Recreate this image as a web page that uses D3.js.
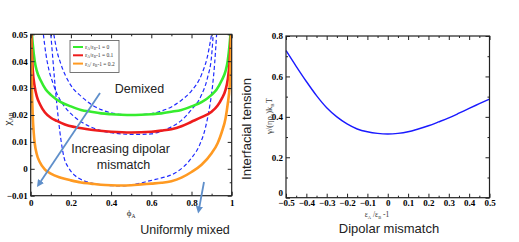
<!DOCTYPE html>
<html><head><meta charset="utf-8">
<script src="https://cdn.jsdelivr.net/npm/d3@7"></script>
<style>
body{margin:0;background:#fff;}
svg{display:block;}
.tk text{font-family:"Liberation Serif","DejaVu Serif",serif;font-weight:bold;font-size:9px;}
</style></head><body>
<svg id="c" width="519" height="242"></svg>
<script>
// ---------- left panel data (phi_A, chi_AB) ----------
const greenPhi = [0.006,0.01,0.02,0.03,0.05,0.075,0.1,0.15,0.2,0.25,0.3,0.35,0.4,0.45,0.5,0.55,0.6,0.65,0.7,0.75,0.8,0.85,0.9,0.925,0.95,0.97,0.98,0.99,0.994];
const greenChi = [0.05,0.0465,0.040,0.0365,0.0328,0.0295,0.0275,0.0248,0.0232,0.0219,0.0212,0.0206,0.0203,0.0201,0.020,0.0201,0.0203,0.0206,0.0212,0.0219,0.0232,0.0248,0.0275,0.0295,0.0328,0.0365,0.040,0.0465,0.05];
const redPhi = [0.003,0.006,0.01,0.02,0.03,0.046,0.07,0.1,0.13,0.17,0.22,0.3,0.4,0.5,0.6,0.65,0.7,0.75,0.8,0.85,0.9,0.93,0.95,0.97,0.98,0.99,0.997];
const redChi = [0.05,0.043,0.037,0.0305,0.027,0.024,0.021,0.019,0.0178,0.0165,0.0155,0.0145,0.0138,0.0135,0.0138,0.0142,0.0147,0.0158,0.0175,0.0192,0.0212,0.0235,0.026,0.0295,0.033,0.040,0.05];
const orangePhi = [0.002,0.004,0.007,0.01,0.015,0.02,0.03,0.045,0.07,0.1,0.15,0.2,0.25,0.3,0.35,0.4,0.45,0.5,0.55,0.6,0.65,0.7,0.75,0.8,0.85,0.9,0.93,0.95,0.97,0.98,0.99,0.995,0.998];
const orangeChi = [0.05,0.038,0.027,0.020,0.0135,0.0095,0.0055,0.0025,-0.0002,-0.0018,-0.0033,-0.0043,-0.0051,-0.0055,-0.0059,-0.0061,-0.0062,-0.0061,-0.0058,-0.0055,-0.0052,-0.0046,-0.0033,-0.0012,0.0015,0.0058,0.0095,0.0135,0.019,0.024,0.031,0.040,0.05];
const spin1Phi = [0.115,0.13,0.15,0.2,0.25,0.3,0.35,0.4,0.45,0.5,0.55,0.6,0.65,0.7,0.75,0.8,0.85,0.88,0.90];
const spin1Chi = [0.05,0.044,0.039,0.031,0.027,0.024,0.022,0.0208,0.0202,0.020,0.0202,0.0205,0.0215,0.023,0.0255,0.029,0.035,0.042,0.05];
const spin2Phi = [0.063,0.075,0.09,0.11,0.13,0.16,0.2,0.25,0.3,0.35,0.4,0.45,0.5,0.55,0.6,0.65,0.7,0.75,0.8,0.85,0.88,0.9,0.908];
const spin2Chi = [0.05,0.043,0.037,0.032,0.028,0.024,0.0205,0.0175,0.0155,0.0142,0.0134,0.013,0.0128,0.0128,0.013,0.014,0.0156,0.018,0.022,0.0275,0.034,0.042,0.05];
const spin3Phi = [0.10,0.11,0.12,0.13,0.14,0.15,0.165,0.19,0.22,0.26,0.31,0.36,0.41,0.44,0.48,0.53,0.59,0.64,0.68,0.72,0.76,0.8,0.84,0.87,0.89,0.905,0.915,0.925];
const spin3Chi = [0.05,0.041,0.032,0.024,0.017,0.011,0.0045,0.0002,-0.0025,-0.0043,-0.0054,-0.006,-0.0063,-0.0064,-0.0062,-0.0056,-0.0045,-0.0036,-0.0028,-0.0015,0.0007,0.004,0.0088,0.0155,0.023,0.031,0.039,0.05];
const leftXTicks = [0,0.2,0.4,0.6,0.8,1];
const leftYTicks = [-0.01,0,0.01,0.02,0.03,0.04,0.05];
const legendLabels = ["= 0","= 0.1","= 0.2"];

// ---------- right panel data ----------
const mismatch = [-0.5,-0.45,-0.4,-0.35,-0.3,-0.25,-0.2,-0.15,-0.1,-0.05,0,0.05,0.1,0.15,0.2,0.25,0.3,0.35,0.4,0.45,0.5];
const tension  = [0.728,0.65,0.575,0.505,0.445,0.40,0.365,0.34,0.326,0.318,0.315,0.318,0.326,0.34,0.356,0.375,0.395,0.418,0.442,0.465,0.488];
const rightXTicks = [-0.5,-0.4,-0.3,-0.2,-0.1,0,0.1,0.2,0.3,0.4,0.5];
const rightYTicks = [0,0.2,0.4,0.6,0.8];

const svg = d3.select("#c");
const serif = '"Liberation Serif","DejaVu Serif",serif';
const sans = '"Liberation Sans",Arial,sans-serif';

function frame(g, x, y, xt, yt, xminor, yminor, xfmt, yfmt, xpad){
  const [x0,x1]=x.range(), [y0,y1]=y.range();
  const W=x1-x0, H=y0-y1;
  g.append("g").attr("class","tk").attr("transform",`translate(0,${y0})`)
    .call(d3.axisBottom(x).tickValues(xt).tickSize(-4).tickPadding(xpad).tickFormat(xfmt));
  g.append("g").attr("class","tk yk").attr("transform",`translate(${x0},0)`)
    .call(d3.axisLeft(y).tickValues(yt).tickSize(-4).tickPadding(3).tickFormat(yfmt));
  g.append("g").attr("transform",`translate(0,${y1})`)
    .call(d3.axisTop(x).tickValues(xt).tickSize(-4).tickFormat(""));
  g.append("g").attr("transform",`translate(${x1},0)`)
    .call(d3.axisRight(y).tickValues(yt).tickSize(-4).tickFormat(""));
  g.append("g").attr("transform",`translate(0,${y0})`).call(d3.axisBottom(x).tickValues(xminor).tickSize(-2).tickFormat(""));
  g.append("g").attr("transform",`translate(0,${y1})`).call(d3.axisTop(x).tickValues(xminor).tickSize(-2).tickFormat(""));
  g.append("g").attr("transform",`translate(${x0},0)`).call(d3.axisLeft(y).tickValues(yminor).tickSize(-2).tickFormat(""));
  g.append("g").attr("transform",`translate(${x1},0)`).call(d3.axisRight(y).tickValues(yminor).tickSize(-2).tickFormat(""));
  g.selectAll(".domain").remove();
  g.selectAll(".tick line").attr("stroke","#222").attr("stroke-width",1);
  g.append("rect").attr("x",x0).attr("y",y1).attr("width",W).attr("height",H)
    .attr("fill","none").attr("stroke","#222").attr("stroke-width",1.2);
}

// ===== LEFT PANEL =====
const xL = d3.scaleLinear().domain([0,1]).range([30.7,231.7]);
const yL = d3.scaleLinear().domain([-0.01,0.05]).range([195.7,34.3]);
const gL = svg.append("g");
svg.append("defs").append("clipPath").attr("id","clipL").append("rect")
  .attr("x",30.7).attr("y",34.3).attr("width",201).attr("height",161.4);
const lineL = d3.line().x(d=>xL(d[0])).y(d=>yL(d[1])).curve(d3.curveMonotoneX);
const zip=(a,b)=>a.map((v,i)=>[v,b[i]]);
const curves = gL.append("g").attr("clip-path","url(#clipL)");
[[spin1Phi,spin1Chi],[spin2Phi,spin2Chi],[spin3Phi,spin3Chi]].forEach(([p,c])=>{
  curves.append("path").attr("d",lineL(zip(p,c))).attr("fill","none")
   .attr("stroke","#1f2bff").attr("stroke-width",1.2).attr("stroke-dasharray","4,2.5");
});
const solidCols = ["#36ec2e","#ee1c1c","#ff9a22"];
[[greenPhi,greenChi],[redPhi,redChi],[orangePhi,orangeChi]].forEach(([p,c],i)=>{
  curves.append("path").attr("d",lineL(zip(p,c))).attr("fill","none")
   .attr("stroke",solidCols[i]).attr("stroke-width",2.6);
});
frame(gL,xL,yL,leftXTicks,leftYTicks,d3.range(0.1,1,0.2),d3.range(-0.005,0.05,0.01),
  d3.format("~g"), d=> d===0?"0":d3.format(".2f")(d), 4);

// legend
const lg = gL.append("g");
lg.append("rect").attr("x",70).attr("y",40.5).attr("width",49).attr("height",32)
  .attr("fill","#fff").attr("stroke","#555").attr("stroke-width",0.8);
legendLabels.forEach((t,i)=>{
  const yy = 47 + i*8.3;
  lg.append("line").attr("x1",73).attr("x2",83).attr("y1",yy).attr("y2",yy)
    .attr("stroke",solidCols[i]).attr("stroke-width",2);
  const tx = lg.append("text").attr("x",85).attr("y",yy+2).attr("font-family",serif)
    .attr("font-size",5.5).attr("fill","#333");
  tx.append("tspan").text("ε");
  tx.append("tspan").attr("font-size",3.5).attr("dy",1).text("A");
  tx.append("tspan").attr("dy",-1).text(i===2?"/ ε":"/ε");
  tx.append("tspan").attr("font-size",3.5).attr("dy",1).text("B");
  tx.append("tspan").attr("dy",-1).text("-1 "+t);
});

// axis labels left
const yl = gL.append("text").attr("transform","translate(11,119) rotate(-90)")
  .attr("text-anchor","middle").attr("font-family",serif).attr("font-size",11).attr("fill","#222");
yl.append("tspan").text("χ");
yl.append("tspan").attr("font-size",6).attr("dy",2).text("AB");
const xl = gL.append("text").attr("x",131).attr("y",216).attr("text-anchor","middle")
  .attr("font-family",serif).attr("font-size",9).attr("fill","#222");
xl.append("tspan").text("ϕ");
xl.append("tspan").attr("font-size",5.5).attr("dy",2).text("A");

// annotations
const ann = (t,x,y,fs,anchor)=>svg.append("text").attr("x",x).attr("y",y).attr("text-anchor",anchor||"middle")
  .attr("font-family",sans).attr("font-size",fs).attr("fill","#222").text(t);
ann("Demixed",139.5,92.5,12.5);
ann("Increasing dipolar",120.5,152.5,12.5);
ann("mismatch",123.5,168.5,12.5);
ann("Uniformly mixed",185,234,12.5);

// arrows
const arrowCol="#5f8fca";
const defs = svg.select("defs");
defs.append("marker").attr("id","ah").attr("viewBox","0 0 10 10").attr("refX",5).attr("refY",5)
  .attr("markerWidth",4).attr("markerHeight",4).attr("orient","auto")
  .append("path").attr("d","M0,0 L10,5 L0,10 z").attr("fill",arrowCol);
svg.append("line").attr("x1",100).attr("y1",93).attr("x2",39).attr("y2",184)
  .attr("stroke",arrowCol).attr("stroke-width",1.8).attr("marker-end","url(#ah)");
svg.append("line").attr("x1",204).attr("y1",182).attr("x2",198.8).attr("y2",210)
  .attr("stroke",arrowCol).attr("stroke-width",1.8).attr("marker-end","url(#ah)");

// vertical "Interfacial tension"
svg.append("text").attr("transform","translate(251,129) rotate(-90)").attr("text-anchor","middle")
  .attr("font-family",sans).attr("font-size",13).attr("fill","#222").text("Interfacial tension");

// ===== RIGHT PANEL =====
const xR = d3.scaleLinear().domain([-0.5,0.5]).range([286,489.5]);
const yR = d3.scaleLinear().domain([0,0.8]).range([197.7,36]);
const gR = svg.append("g");
const lineR = d3.line().x(d=>xR(d[0])).y(d=>yR(d[1])).curve(d3.curveMonotoneX);
gR.append("path").attr("d",lineR(zip(mismatch,tension))).attr("fill","none")
  .attr("stroke","#1a1aff").attr("stroke-width",1.4);
frame(gR,xR,yR,rightXTicks,rightYTicks,d3.range(-0.45,0.5,0.1),d3.range(0.1,0.8,0.2),
  d=> d===0?"0":d3.format(".1f")(d), d=> d===0?"0":d3.format(".1f")(d), 2);
gR.selectAll(".tk text").attr("font-size",8.5);
gR.selectAll(".yk .tick").filter(d=>d===0).select("text").attr("dy","-0.3em");

const yr = gR.append("text").attr("transform","translate(272,116) rotate(-90)").attr("text-anchor","middle")
  .attr("font-family",serif).attr("font-size",8.5).attr("fill","#333");
yr.append("tspan").text("γ/(ηρ");
yr.append("tspan").attr("font-size",5).attr("dy",2).text("0");
yr.append("tspan").attr("dy",-2).text(")k");
yr.append("tspan").attr("font-size",5).attr("dy",2).text("B");
yr.append("tspan").attr("dy",-2).text("T");
const xr = gR.append("text").attr("x",377).attr("y",217).attr("text-anchor","middle")
  .attr("font-family",serif).attr("font-size",7.5).attr("fill","#333");
xr.append("tspan").text("ε");
xr.append("tspan").attr("font-size",4.5).attr("dy",1.5).text("A");
xr.append("tspan").attr("dy",-1.5).text(" /ε");
xr.append("tspan").attr("font-size",4.5).attr("dy",1.5).text("B");
xr.append("tspan").attr("dy",-1.5).text("  -1");
ann("Dipolar mismatch",389,233,13);
</script></body></html>
